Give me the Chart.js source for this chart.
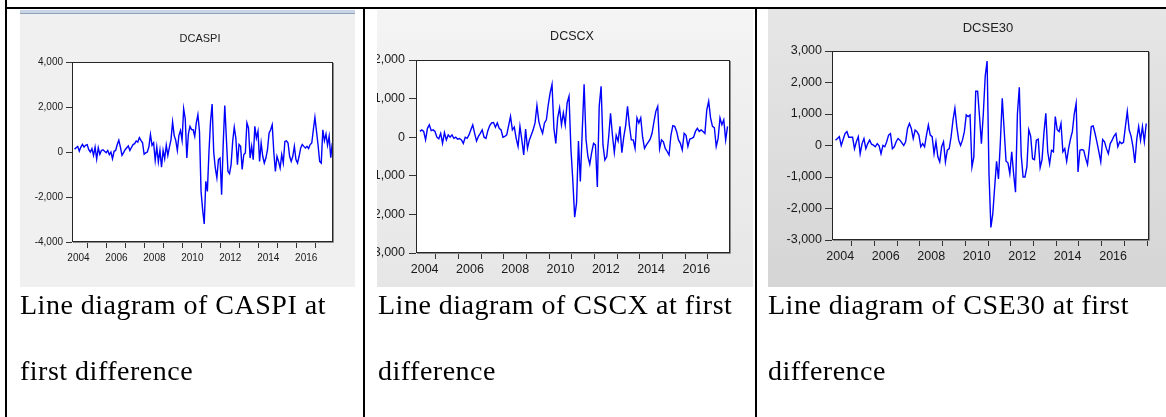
<!DOCTYPE html>
<html>
<head>
<meta charset="utf-8">
<script src="https://cdn.jsdelivr.net/npm/chart.js@4.4.1/dist/chart.umd.min.js"></script>
<style>
  html, body { margin: 0; padding: 0; background: #fff; }
  body { position: relative; width: 1166px; height: 417px; overflow: hidden; font-family: "Liberation Sans", Arial, sans-serif; }
  .rule { position: absolute; background: #000; }
  .shot { position: absolute; overflow: hidden; }
  .shot canvas { position: absolute; }
  .title { position: absolute; width: 120px; height: 16px; line-height: 16px; text-align: center; color: #222; }
  .caption { position: absolute; top: 271.5px; font-family: "Liberation Serif", "Times New Roman", serif; font-size: 28px; letter-spacing: 0.5px; line-height: 66.7px; color: #000; white-space: nowrap; }
</style>
</head>
<body>
<div class="rule" style="left:5px;top:0;width:2px;height:417px"></div>
<div class="rule" style="left:5px;top:7px;width:1161px;height:2px"></div>
<div class="rule" style="left:363px;top:7px;width:2px;height:410px"></div>
<div class="rule" style="left:755px;top:7px;width:2px;height:410px"></div>

<div class="shot" style="left:20px;top:10px;width:335px;height:277px;background:#f0f0f0">
  <div style="position:absolute;left:0;top:0;width:335px;height:3px;background:#c9d5e4;border-bottom:1px solid #8fa2bb"></div>
  <canvas id="c1" width="335" height="273" style="left:0;top:4px"></canvas>
</div>
<div class="shot" style="left:377px;top:10px;width:376px;height:277px;background:linear-gradient(#f4f4f4,#e6e6e6)">
  <canvas id="c2" width="396" height="277" style="left:-20px;top:0"></canvas>
</div>
<div class="shot" style="left:768px;top:9px;width:398px;height:278px;background:linear-gradient(#e6e6e6,#d5d5d5)">
  <canvas id="c3" width="398" height="278" style="left:0;top:0"></canvas>
</div>

<div class="title" style="left:140px;top:30px;font-size:11px">DCASPI</div>
<div class="title" style="left:512px;top:28px;font-size:12.5px">DCSCX</div>
<div class="title" style="left:928px;top:20px;font-size:13px">DCSE30</div>

<div class="caption" style="left:20px">Line diagram of CASPI at<br>first difference</div>
<div class="caption" style="left:378px">Line diagram of CSCX at first<br>difference</div>
<div class="caption" style="left:768px">Line diagram of CSE30 at first<br>difference</div>

<script>
// monthly first differences, 2004M04 onwards
const startYear = 2004;
const startMonth = 4;

const caspi = [
  120, 190, 250, 40, 220, 340, 220, 300, 330, 100,
  0, 150, -150, 220, -310, 190, -100, 70, 100, 30,
  -30, 70, -120, 0, -300, 30, 70, 330, 520, 220,
  -150, -30, 100, 190, 270, 70, 200, 330, 370, 490,
  440, 640, 520, 410, -100, -40, 0, 220, 780, 300,
  410, -370, 220, -440, 70, -670, 70, -300, 300, -150,
  220, 550, 1330, 740, 520, 70, 740, 960, 520, 1920,
  1480, -270, 810, 1140, 1000, 990, 700, 1290, 1660, 920,
  -1750, -2560, -3200, -1300, -1750, 0, 1360, 2130, 0, -710,
  -1150, -340, -270, -1900, 330, 2070, 620, -860, -960, -560,
  470, 1100, 620, -560, 330, 250, -780, -120, -40, 1290,
  1070, -270, 250, -340, 1140, 620, 920, -420, 400, -190,
  -490, -270, 100, 840, 990, 1210, 0, -860, -190, -420,
  -710, -120, -490, 470, 500, 400, -190, -420, -190, 250,
  -340, -490, -190, 180, 330, 250, 180, 250, 150, 330,
  400, 990, 1540, 920, 300, -420, -490, 990, 500, 800,
  300, 700, -250, 400
];

const cscx = [
  150, 190, 150, -70, 230, 320, 170, 190, 150, 0,
  -40, 100, -160, 120, -70, 60, 0, 60, -30, 0,
  -50, -35, -70, -160, 0, -30, 60, 190, 320, 100,
  -100, 20, 100, 190, 0, -30, 170, 300, 370, 380,
  260, 370, 230, 190, 0, 20, 60, 300, 540, 190,
  260, -30, -240, 280, -70, -460, 210, -290, -70, 60,
  190, 370, 820, 410, 230, 100, 370, 450, 840, 1150,
  1370, 230, -160, 500, 760, 320, 630, 320, 890, 1060,
  -290, -1110, -2070, -1700, -100, -1150, 150, 1370, -50, -500,
  -700, -400, -160, -200, -1290, 800, 1320, -200, -590, -500,
  0, 620, 50, -400, 50, -100, 280, -400, 0, 300,
  800, 300, -70, -70, -290, 500, 370, 500, 0, -290,
  -200, -130, -50, 100, 400, 670, 800, -300, -70, -120,
  -290, -370, -460, 50, 300, 280, 150, -70, -160, -330,
  100, 50, -240, -50, -30, 0, 150, 230, 150, 190,
  150, 100, 710, 930, 500, 280, 250, -240, -30, 500,
  320, 450, -70, 280
];

const cse30 = [
  170, 220, 280, 0, 190, 380, 440, 260, 260, 260,
  -100, 120, 280, -260, 60, 220, -100, 60, 170, 40,
  10, -40, 60, -10, -260, 0, -40, 120, 330, 380,
  -100, -40, 120, 220, 170, 85, 0, 120, 540, 700,
  540, 220, 490, 440, 330, -40, 60, -40, 330, 650,
  330, 280, -260, 120, -360, -520, -40, 120, -520, -150,
  -100, 280, 810, 1180, 600, 170, 0, 170, 440, 970,
  920, 970, -680, -360, 1720, 1720, 920, 60, 1000, 2200,
  2680, -900, -2600, -2170, -1320, -500, -1060, 100, 1500, 500,
  -500, -550, -900, -200, -900, -1480, 1000, 1850, -300, -1000,
  -1000, -680, 500, 300, -420, -450, 170, 200, -700, -450,
  400, 1020, -200, -580, -150, -200, 920, 500, 440, 700,
  -200, -100, -500, -100, 200, 440, 1000, 1340, -840, -150,
  -130, -150, -400, -600, -50, 600, 620, 380, 100, -200,
  -520, 190, 120, -100, -260, 60, 170, 300, 380, -40,
  120, 60, 100, 600, 1080, 490, 300, -40, -550, 200,
  600, 170, 600, 120, 700
];

const yearLabels = ['2004', '2006', '2008', '2010', '2012', '2014', '2016'];
const tickYears = [2005, 2006, 2007, 2008, 2009, 2010, 2011, 2012, 2013, 2014, 2015, 2016, 2017, 2018];
const caspiTicks = [4000, 2000, 0, -2000, -4000];
const cscxTicks = [2000, 1000, 0, -1000, -2000, -3000];
const cse30Ticks = [3000, 2000, 1000, 0, -1000, -2000, -3000];

// white plot area and the dark frame round it
const framePlugin = {
  id: 'frame',
  beforeDraw(chart) {
    const a = chart.chartArea, ctx = chart.ctx;
    ctx.save();
    ctx.fillStyle = '#fff';
    ctx.fillRect(a.left, a.top, a.width, a.height);
    ctx.restore();
  },
  afterDraw(chart) {
    const a = chart.chartArea, ctx = chart.ctx;
    ctx.save();
    ctx.lineWidth = 1;
    ctx.strokeStyle = '#8c8c8c';
    ctx.beginPath();
    ctx.moveTo(a.right + 0.5, a.top + 1);
    ctx.lineTo(a.right + 0.5, a.bottom + 0.5);
    ctx.lineTo(a.left + 1, a.bottom + 0.5);
    ctx.stroke();
    ctx.strokeStyle = '#262626';
    ctx.strokeRect(a.left + 0.5, a.top + 0.5, a.width - 1, a.height - 1);
    ctx.restore();
  }
};

function lineChart(id, values, yTicks, o) {
  const points = values.map((v, k) => ({ x: startYear + (startMonth - 1 + k + 0.5) / 12, y: v }));
  const xTicks = tickYears.filter(y => y > o.xMin && y < o.xMax)
    .concat(yearLabels.map(l => Number(l) + 0.5))
    .sort((a, b) => a - b);
  const font = { family: '"Liberation Sans", Arial, sans-serif', size: o.font };

  new Chart(document.getElementById(id), {
    type: 'line',
    data: {
      datasets: [{ data: points, borderColor: '#0000ff', borderWidth: 1.4, pointRadius: 0, tension: 0, fill: false }]
    },
    options: {
      responsive: false,
      animation: false,
      devicePixelRatio: 1,
      layout: { padding: { left: 0, top: o.top, right: o.right, bottom: 0 } },
      plugins: { legend: { display: false }, tooltip: { enabled: false }, title: { display: false } },
      scales: {
        x: {
          type: 'linear',
          min: o.xMin,
          max: o.xMax,
          afterBuildTicks: s => { s.ticks = xTicks.map(v => ({ value: v })); },
          afterFit: s => { s.height = o.bottom; },
          border: { display: false },
          grid: {
            drawOnChartArea: false,
            tickLength: 6,
            tickColor: c => (c.tick && Number.isInteger(c.tick.value)) ? '#333' : 'rgba(0,0,0,0)'
          },
          ticks: {
            autoSkip: false,
            maxRotation: 0,
            minRotation: 0,
            padding: o.xPad,
            color: '#1a1a1a',
            font: font,
            callback: v => {
              const lab = yearLabels.find(l => Number(l) + 0.5 === v);
              return lab || '';
            }
          }
        },
        y: {
          min: yTicks[yTicks.length - 1],
          max: yTicks[0],
          afterBuildTicks: s => { s.ticks = yTicks.map(v => ({ value: v })); },
          afterFit: s => { s.width = o.left; },
          border: { display: false },
          grid: { drawOnChartArea: false, tickLength: o.yTick, tickColor: '#333' },
          ticks: {
            padding: o.yPad,
            color: '#1a1a1a',
            font: font,
            callback: v => v.toLocaleString('en-US')
          }
        }
      }
    },
    plugins: [framePlugin]
  });
}

lineChart('c1', caspi, caspiTicks, { xMin: 2004.158, xMax: 2017.911, left: 52, top: 48, right: 22, bottom: 45, font: 10, xPad: 4, yTick: 6, yPad: 3 });
lineChart('c2', cscx, cscxTicks, { xMin: 2004.119, xMax: 2017.983, left: 59, top: 50, right: 23, bottom: 34, font: 12.5, xPad: 3, yTick: 7, yPad: 4 });
lineChart('c3', cse30, cse30Ticks, { xMin: 2004.136, xMax: 2018.08, left: 64, top: 42, right: 17, bottom: 47, font: 12.5, xPad: 3, yTick: 7, yPad: 3 });
</script>
</body>
</html>
